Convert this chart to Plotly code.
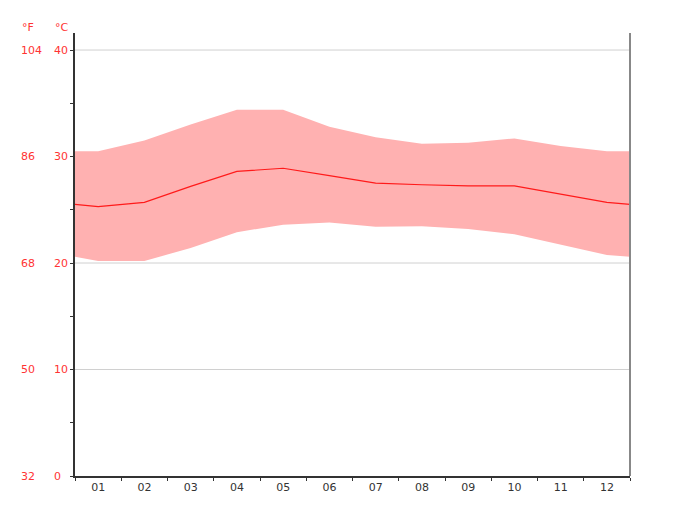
import plotly.graph_objects as go

# month positions (edges at 0.5 / 12.5 carry the wrap-around values seen in the chart)
months = ["01", "02", "03", "04", "05", "06", "07", "08", "09", "10", "11", "12"]
x_pos = [0.5, 1, 2, 3, 4, 5, 6, 7, 8, 9, 10, 11, 12, 12.5]

temp_max = [30.5, 30.5, 31.5, 33.0, 34.4, 34.4, 32.8, 31.8, 31.2, 31.3, 31.7, 31.0, 30.5, 30.5]
temp_mean = [25.5, 25.3, 25.7, 27.2, 28.6, 28.9, 28.2, 27.5, 27.35, 27.25, 27.25, 26.45, 25.7, 25.5]
temp_min = [20.6, 20.2, 20.2, 21.4, 22.9, 23.6, 23.8, 23.4, 23.45, 23.2, 22.7, 21.7, 20.75, 20.6]

c_ticks = [0, 10, 20, 30, 40]
f_ticks = [32, 50, 68, 86, 104]

RED = "#ff3333"

fig = go.Figure()

# band between min and max (opaque so the grid stays hidden behind it)
fig.add_trace(go.Scatter(x=x_pos, y=temp_min, mode="lines", line=dict(width=0),
                         hoverinfo="skip", showlegend=False))
fig.add_trace(go.Scatter(x=x_pos, y=temp_max, mode="lines", line=dict(width=0),
                         fill="tonexty", fillcolor="#ffb1b1",
                         hoverinfo="skip", showlegend=False))
# mean line
fig.add_trace(go.Scatter(x=x_pos, y=temp_mean, mode="lines",
                         line=dict(color="#ff1a1a", width=1.2), showlegend=False))

# y labels (°C and °F) as annotations
annos = []
for c, f in zip(c_ticks, f_ticks):
    annos.append(dict(x=-0.0414, xref="paper", y=c, yref="y", text=str(c),
                      xanchor="left", yanchor="middle", showarrow=False,
                      font=dict(color=RED, size=11)))
    annos.append(dict(x=-0.1009, xref="paper", y=c, yref="y", text=str(f),
                      xanchor="left", yanchor="middle", showarrow=False,
                      font=dict(color=RED, size=11)))
annos.append(dict(x=-0.0991, xref="paper", y=1.0, yref="paper", text="°F",
                  xanchor="left", yanchor="bottom", yshift=-3, showarrow=False,
                  font=dict(color=RED, size=11)))
annos.append(dict(x=-0.0396, xref="paper", y=1.0, yref="paper", text="°C",
                  xanchor="left", yanchor="bottom", yshift=-3, showarrow=False,
                  font=dict(color=RED, size=11)))

fig.update_layout(
    width=680, height=510,
    margin=dict(l=75, r=50, t=33, b=34),
    plot_bgcolor="white", paper_bgcolor="white",
    font=dict(family="DejaVu Sans", size=11, color="#333"),
    annotations=annos,
    shapes=[dict(type="line", xref="paper", yref="paper", x0=1, x1=1, y0=0, y1=1,
                 line=dict(color="#888", width=2))],
    xaxis=dict(range=[0.5, 12.5], tickvals=list(range(1, 13)), ticktext=months,
               ticks="", showgrid=False, zeroline=False,
               showline=True, linecolor="#333", linewidth=1.5,
               tickfont=dict(size=11, color="#333"),
               minor=dict(tick0=0.5, dtick=1, ticks="outside", ticklen=3,
                          tickcolor="#333", showgrid=False)),
    yaxis=dict(range=[0, 41.6], tickvals=[0, 5, 10, 15, 20, 25, 30, 35, 40],
               showticklabels=False, ticks="outside", ticklen=3, tickcolor="#333",
               showgrid=False, zeroline=False,
               showline=True, linecolor="#333", linewidth=1.5),
)

# horizontal grid lines at the labelled °C values
for c in c_ticks[1:]:
    fig.add_hline(y=c, line=dict(color="#d0d0d0", width=1), layer="below")

fig.write_html("out.html", config={"displayModeBar": False},
               post_script="document.body.style.margin='0';")
